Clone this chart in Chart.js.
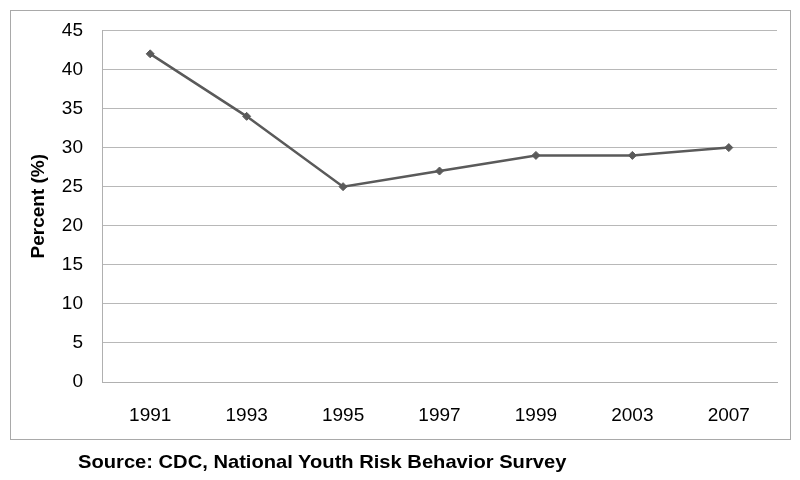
<!DOCTYPE html>
<html>
<head>
<meta charset="utf-8">
<script src="https://cdn.jsdelivr.net/npm/chart.js@4/dist/chart.umd.min.js"></script>
<style>
    body { margin: 0; background: #fff; }
    #wrap { position: relative; width: 800px; height: 480px; }
    #frame {
        position: absolute; left: 10px; top: 10px; width: 779px; height: 428px;
        border: 1px solid #a9a9a9;
    }
    #chart { position: absolute; left: 0; top: 0; }
    #source {
        position: absolute; left: 78px; top: 451px;
        font: bold 19px "Liberation Sans", Arial, sans-serif; color: #000;
        transform: scaleX(1.06); transform-origin: left top;
    }
</style>
</head>
<body>
<div id="wrap">
    <div id="frame"></div>
    <canvas id="chart" width="800" height="480"></canvas>
    <div id="source">Source: CDC, National Youth Risk Behavior Survey</div>
</div>
<script>
    const years = ["1991", "1993", "1995", "1997", "1999", "2003", "2007"];
    const percents = [42, 34, 25, 27, 29, 29, 30];

    const ctx = document.querySelector("#chart");
    const font = "'Liberation Sans', Arial, sans-serif";

    new Chart(ctx, {
        type: "line",
        data: {
            labels: years,
            datasets: [
                {
                    label: "Percent",
                    data: percents,
                    borderColor: "#5a5a5a",
                    backgroundColor: "#5a5a5a",
                    borderWidth: 2.5,
                    pointStyle: "rectRot",
                    pointRadius: 4,
                    pointBorderWidth: 1,
                    tension: 0,
                },
            ],
        },
        options: {
            responsive: false,
            animation: false,
            layout: { padding: { left: 27, right: 23, top: 29, bottom: 0 } },
            plugins: {
                legend: { display: false },
                tooltip: { enabled: false },
            },
            scales: {
                x: {
                    offset: true,
                    grid: { display: false, drawTicks: false, offset: true },
                    border: { display: true, color: "#b0b0b0", width: 1 },
                    ticks: { color: "#000", font: { family: font, size: 19 }, padding: 22 },
                    afterFit: (scale) => { scale.height = 98; },
                },
                y: {
                    min: 0,
                    max: 45,
                    grid: { color: "#b8b8b8", lineWidth: 1, drawTicks: false },
                    border: { display: true, color: "#b0b0b0", width: 1 },
                    ticks: { stepSize: 5, color: "#000", font: { family: font, size: 19 }, padding: 19 },
                    title: {
                        display: true,
                        text: "Percent (%)",
                        color: "#000",
                        font: { family: font, size: 19, weight: "bold" },
                        padding: 0,
                    },
                    afterFit: (scale) => { scale.width = 75; },
                },
            },
        },
    });
</script>
</body>
</html>
